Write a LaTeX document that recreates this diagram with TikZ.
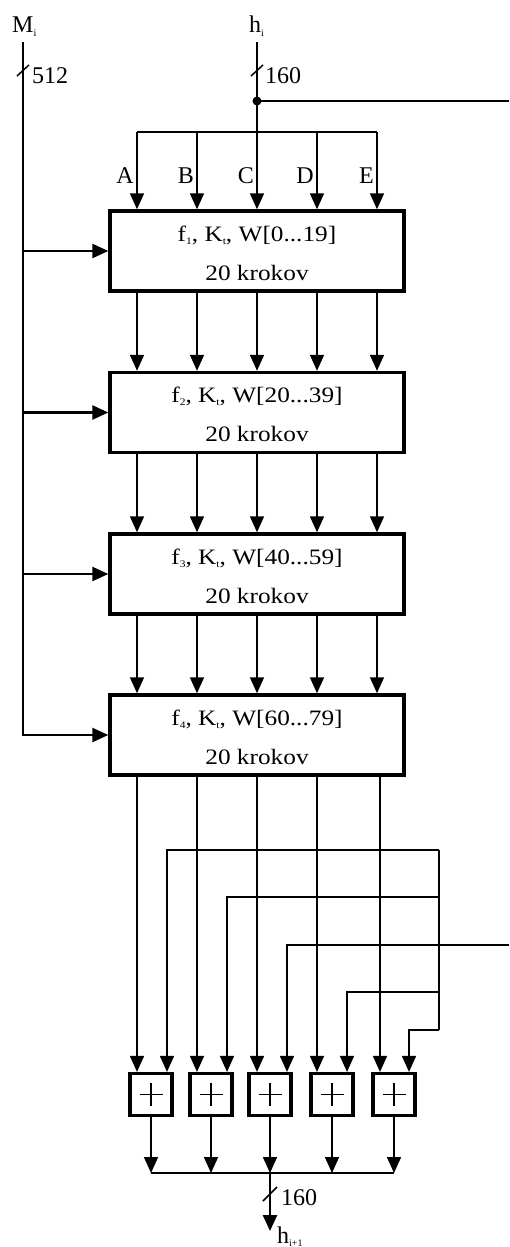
\documentclass[tikz,border=0pt]{standalone}
\usepackage{fontspec}
\setmainfont{Liberation Serif}
\newfontfamily\boxfont[FakeStretch=1.15]{Liberation Serif}
\usetikzlibrary{arrows.meta,calc}
% small index set low beside a letter
\newcommand{\idx}[1]{\raisebox{-0.3ex}{\fontsize{10}{10}\selectfont #1}}

\begin{document}
\begin{tikzpicture}[x=1pt,y=-1pt,
  wire/.style={line width=1.7pt},
  bus/.style={line width=2.5pt},
  arr/.style={-{Triangle[length=16pt,width=14pt]}},
  round/.style={draw, line width=3.4pt, minimum width=294pt, minimum height=80pt, inner sep=0pt},
  adder/.style={draw, line width=3.2pt, minimum width=42pt, minimum height=42pt, inner sep=0pt,
    path picture={\draw[line width=1.6pt]
      ($(path picture bounding box.center)+(-11.5,0)$) -- ++(23,0)
      ($(path picture bounding box.center)+(0,-11.5)$) -- ++(0,23);}},
  txt/.style={font=\boxfont\fontsize{22}{24}\selectfont, inner sep=0pt, anchor=base},
  lbl/.style={font=\fontsize{24}{26}\selectfont, inner sep=0pt},
  slash/.style={line width=1.5pt},
]
\useasboundingbox (0,0) rectangle (509,1247);

% column positions of the five words A..E
\coordinate (cA) at (137,0);
\coordinate (cB) at (197,0);
\coordinate (cC) at (257,0);
\coordinate (cD) at (317,0);
\coordinate (cE) at (377,0);
\coordinate (cE2) at (380,0);
% feedback columns
\coordinate (fA) at (167,0);
\coordinate (fB) at (227,0);
\coordinate (fC) at (287,0);
\coordinate (fD) at (347,0);
\coordinate (fE) at (409,0);

% round blocks
\node[round] (b1) at (257,251) {};
\node[round] (b2) at (257,412.5) {};
\node[round] (b3) at (257,574) {};
\node[round] (b4) at (257,735) {};
\node[txt] (t1a) at ($(b1.center)+(0,-10)$) {f\idx{1}, K\idx{t}, W[0...19]};
\node[txt] (t1b) at ($(b1.center)+(0,29)$) {20 krokov};
\node[txt] (t2a) at ($(b2.center)+(0,-10)$) {f\idx{2}, K\idx{t}, W[20...39]};
\node[txt] (t2b) at ($(b2.center)+(0,29)$) {20 krokov};
\node[txt] (t3a) at ($(b3.center)+(0,-10)$) {f\idx{3}, K\idx{t}, W[40...59]};
\node[txt] (t3b) at ($(b3.center)+(0,29)$) {20 krokov};
\node[txt] (t4a) at ($(b4.center)+(0,-10)$) {f\idx{4}, K\idx{t}, W[60...79]};
\node[txt] (t4b) at ($(b4.center)+(0,29)$) {20 krokov};

% adders
\node[adder] (a1) at (151,1094.5) {};
\node[adder] (a2) at (211,1094.5) {};
\node[adder] (a3) at (270,1094.5) {};
\node[adder] (a4) at (332,1094.5) {};
\node[adder] (a5) at (394,1094.5) {};

% inputs
\node[lbl, anchor=base west] (Mi) at (12,33) {M\idx{i}};
\node[lbl, anchor=base west] (hi) at (249,33) {h\idx{i}};
\coordinate (Mtop) at (23,42);
\coordinate (htop) at (257,42);

% message block feeding every round
\draw[bus,arr] (Mtop) |- (b4.west);
\foreach \b in {b1,b2,b3} \draw[bus,arr] (Mtop |- \b.west) -- (\b.west);
\draw[slash] (17,76) -- (29,65);
\node[lbl, anchor=base west] (n512) at (32,83) {512};

% chaining value split into A..E
\draw[wire,arr] (htop) -- (b1.north -| cC);
\draw[slash] (251,76) -- (263,65);
\node[lbl, anchor=base west] (n160a) at (265,83) {160};
\coordinate (tap) at (257,101);
\coordinate (hout) at (509,101);
\fill (tap) circle (4.5pt);
\draw[wire] (tap) -- (hout);
\coordinate (fanL) at (137,132);
\coordinate (fanR) at (377,132);
\draw[wire] (fanL) -- (fanR);
\foreach \c in {cA,cB,cD,cE} \draw[wire,arr] (fanL -| \c) -- (b1.north -| \c);
\foreach \c/\t in {cA/A,cB/B,cC/C,cD/D,cE/E}
  \node[lbl, anchor=base east] (l\t) at ($(\c |- 0,183)+(-3,0)$) {\t};

% words passed from round to round
\foreach \u/\v in {b1/b2,b2/b3,b3/b4}
  \foreach \c in {cA,cB,cC,cD,cE}
    \draw[wire,arr] (\u.south -| \c) -- (\v.north -| \c);

% words from the last round into the adders
\draw[wire,arr] (b4.south -| cA) -- (a1.north -| cA);
\draw[wire,arr] (b4.south -| cB) -- (a2.north -| cB);
\draw[wire,arr] (b4.south -| cC) -- (a3.north -| cC);
\draw[wire,arr] (b4.south -| cD) -- (a4.north -| cD);
\draw[wire,arr] (b4.south -| cE2) -- (a5.north -| cE2);

% feed-forward of the chaining value
\coordinate (busT) at (439,850);
\coordinate (busB) at (439,1030);
\coordinate (fin) at (509,945);
\draw[line width=2.8pt] (busT) -- (busB);
\draw[wire] (fin) -- (busT |- fin);
\draw[wire,arr] (busT) -| (a1.north -| fA);
\draw[wire,arr] (busT |- 0,897) -| (a2.north -| fB);
\draw[wire,arr] (busT |- 0,945) -| (a3.north -| fC);
\draw[wire,arr] (busT |- 0,992) -| (a4.north -| fD);
\draw[wire,arr] (busB) -| (a5.north -| fE);

% concatenation of the sums
\coordinate (sumL) at (151,1173);
\coordinate (sumR) at (394,1173);
\draw[wire] (sumL) -- (sumR);
\foreach \a in {a1,a2,a3,a4,a5} \draw[wire,arr] (\a.south) -- (\a.south |- sumL);
\coordinate (hend) at (270,1231);
\draw[bus,arr] (sumL -| a3) -- (hend);
\draw[slash] (263,1201) -- (277,1187);
\node[lbl, anchor=base west] (n160b) at (281,1205) {160};
\node[lbl, anchor=base west] (hn) at (277,1243) {h\idx{i+1}};
\end{tikzpicture}
\end{document}
